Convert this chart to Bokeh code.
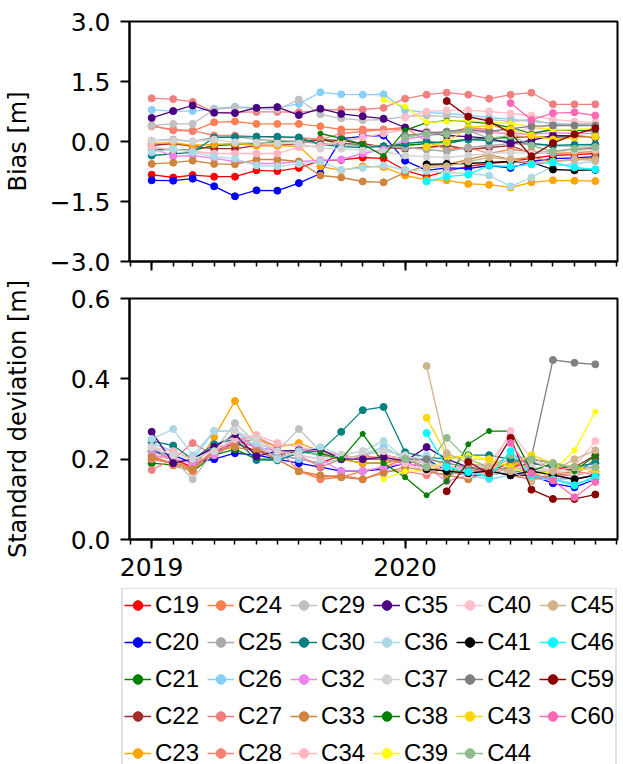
import pandas as pd
from bokeh.plotting import figure
from bokeh.layouts import column
from bokeh.models import (Range1d, FixedTicker, DatetimeTickFormatter, Legend,
                          LegendItem, ColumnDataSource)
from bokeh.embed import file_html
from bokeh.resources import INLINE

# Monthly epochs
months = ["2019-01", "2019-02", "2019-03", "2019-04", "2019-05", "2019-06",
          "2019-07", "2019-08", "2019-09", "2019-10", "2019-11", "2019-12",
          "2020-01", "2020-02", "2020-03", "2020-04", "2020-05", "2020-06",
          "2020-07", "2020-08", "2020-09", "2020-10"]
N = None

# Satellite names, colours (legend order)
satellites = ["C19", "C20", "C21", "C22", "C23", "C24", "C25", "C26", "C27", "C28",
              "C29", "C30", "C32", "C33", "C34", "C35", "C36", "C37", "C38", "C39",
              "C40", "C41", "C42", "C43", "C44", "C45", "C46", "C59", "C60"]
colors = ["red", "blue", "green", "brown", "orange", "coral", "darkgray", "lightskyblue",
          "lightcoral", "salmon", "silver", "teal", "violet", "peru", "lightpink",
          "indigo", "lightblue", "lightgray", "green", "yellow", "pink", "black",
          "gray", "gold", "darkseagreen", "tan", "cyan", "darkred", "hotpink"]
small_marker = ["C38", "C39"]

# Bias [m]
C19_bias = [-0.83, -0.90, -0.84, -0.88, -0.88, -0.72, -0.74, -0.66, -0.48, -0.46, -0.40, -0.42, -0.72, -0.88, -0.74, -0.62, -0.55, -0.50, -0.42, -0.35, -0.33, -0.30]
C20_bias = [-0.97, -0.98, -0.93, -1.12, -1.37, -1.22, -1.23, -1.04, -0.80, 0.07, 0.13, 0.15, -0.48, -0.72, -0.66, -0.68, -0.60, -0.66, -0.50, -0.43, -0.41, -0.38]
C21_bias = [-0.20, -0.20, -0.22, -0.10, -0.08, -0.05, 0.00, 0.00, 0.05, -0.05, -0.08, -0.12, -0.10, -0.05, 0.00, 0.05, 0.08, 0.10, 0.12, 0.10, 0.12, 0.10]
C22_bias = [-0.10, -0.05, -0.12, -0.18, -0.18, -0.10, -0.10, -0.05, 0.05, 0.02, -0.05, -0.15, -0.18, -0.15, -0.10, -0.20, -0.15, -0.10, -0.30, -0.25, -0.20, -0.18]
C23_bias = [-0.05, -0.03, -0.10, -0.07, -0.05, -0.10, -0.10, -0.12, -0.62, -0.72, -0.62, -0.64, -0.85, -0.96, -0.97, -1.06, -1.08, -1.15, -1.02, -0.97, -0.98, -0.99]
C24_bias = [0.40, 0.28, 0.26, 0.48, 0.50, 0.44, 0.44, 0.44, 0.38, 0.30, 0.30, 0.30, 0.35, 0.00, -0.20, -0.15, -0.30, -0.20, -0.25, -0.30, -0.28, -0.25]
C25_bias = [0.02, 0.05, 0.00, 0.10, 0.12, 0.05, 0.02, 0.00, -0.05, -0.08, -0.10, -0.12, -0.15, -0.20, -0.25, -0.15, -0.10, -0.05, -0.08, -0.10, -0.12, -0.10]
C26_bias = [0.79, 0.76, 0.76, 0.82, 0.87, 0.84, 0.84, 0.94, 1.23, 1.18, 1.17, 1.18, 0.79, 0.72, 0.70, 0.66, 0.60, 0.56, 0.50, 0.46, 0.43, 0.40]
C27_bias = [1.08, 1.06, 0.99, 0.72, 0.73, 0.74, 0.74, 0.73, 0.78, 0.80, 0.80, 0.84, 1.07, 1.17, 1.22, 1.17, 1.07, 1.17, 1.22, 0.93, 0.93, 0.93]
C28_bias = [0.38, 0.30, 0.27, 0.15, 0.15, 0.12, 0.10, 0.10, 0.05, 0.20, 0.25, 0.30, 0.30, 0.25, 0.20, 0.35, 0.30, 0.15, 0.10, 0.08, 0.10, 0.12]
C29_bias = [0.40, 0.44, 0.44, 0.80, 0.85, 0.82, 0.80, 1.05, 0.68, 0.58, 0.53, 0.55, 0.62, 0.65, 0.63, 0.60, 0.55, 0.50, 0.55, 0.42, 0.44, 0.45]
C30_bias = [-0.35, -0.31, -0.27, 0.10, 0.11, 0.12, 0.12, 0.10, -0.07, -0.13, -0.15, -0.12, -0.05, 0.00, -0.05, 0.05, 0.02, 0.00, -0.05, -0.10, -0.08, -0.07]
C32_bias = [-0.15, -0.37, -0.35, -0.42, -0.50, -0.55, -0.55, -0.50, -0.47, -0.45, -0.30, -0.20, 0.05, 0.15, 0.20, 0.25, 0.22, 0.20, 0.18, 0.22, 0.20, 0.20]
C33_bias = [-0.56, -0.53, -0.48, -0.56, -0.57, -0.45, -0.45, -0.50, -0.85, -0.90, -1.00, -1.02, -0.78, -0.60, -0.58, -0.45, -0.33, -0.45, -0.40, -0.50, -0.45, -0.42]
C34_bias = [-0.15, -0.20, -0.25, -0.30, -0.30, -0.30, -0.30, -0.14, -0.10, 0.00, 0.10, 0.20, 0.30, 0.25, 0.20, 0.30, 0.25, 0.20, 0.35, 0.30, 0.28, 0.30]
C35_bias = [0.59, 0.76, 0.90, 0.72, 0.71, 0.84, 0.86, 0.66, 0.82, 0.69, 0.63, 0.57, 0.35, 0.22, 0.15, 0.12, 0.08, -0.05, 0.03, 0.15, 0.14, 0.11]
C36_bias = [-0.27, -0.18, -0.27, -0.38, -0.43, -0.60, -0.62, -0.56, -0.50, -0.71, -0.66, -0.60, -0.71, -0.74, -0.78, -0.80, -0.85, -1.12, -0.90, -0.62, -0.55, -0.50]
C37_bias = [0.02, 0.03, 0.00, 0.05, -0.02, -0.03, -0.05, -0.05, -0.18, -0.18, -0.22, -0.25, -0.35, -0.38, -0.40, -0.35, -0.30, -0.28, -0.30, -0.25, -0.22, -0.20]
C38_bias = [N, N, N, N, N, N, N, N, 0.20, 0.08, -0.07, -0.36, 0.28, 0.47, 0.52, 0.50, 0.45, 0.35, 0.20, 0.30, 0.28, 0.26]
C39_bias = [N, N, N, N, N, N, N, N, N, N, N, 1.04, 0.87, 0.48, 0.50, 0.52, 0.48, 0.45, 0.38, 0.30, 0.30, 0.32]
C40_bias = [N, N, N, N, N, N, N, N, N, N, N, N, 0.60, 0.75, 0.78, 0.78, 0.75, 0.70, 0.65, 0.55, 0.50, 0.48]
C41_bias = [N, N, N, N, N, N, N, N, N, N, N, N, N, -0.57, -0.56, -0.55, -0.52, -0.50, -0.52, -0.70, -0.72, -0.71]
C42_bias = [N, N, N, N, N, N, N, N, N, N, N, N, 0.15, 0.20, 0.25, 0.30, 0.25, 0.32, 0.38, 0.40, 0.40, 0.40]
C43_bias = [N, N, N, N, N, N, N, N, N, N, N, N, N, -0.13, -0.02, 0.35, 0.40, 0.30, 0.15, 0.05, 0.10, 0.12]
C44_bias = [N, N, N, N, N, N, N, N, N, N, N, N, 0.10, 0.20, 0.18, 0.27, 0.08, 0.15, -0.10, -0.25, -0.18, -0.14]
C45_bias = [N, N, N, N, N, N, N, N, N, N, N, N, N, -0.65, -0.62, -0.50, -0.40, -0.45, -0.55, -0.50, -0.45, -0.47]
C46_bias = [N, N, N, N, N, N, N, N, N, N, N, N, N, -1.00, -0.88, -0.83, -0.60, -0.62, -0.57, -0.52, -0.65, -0.70]
C59_bias = [N, N, N, N, N, N, N, N, N, N, N, N, N, N, 1.01, 0.62, 0.51, 0.21, -0.37, -0.04, 0.18, 0.33]
C60_bias = [N, N, N, N, N, N, N, N, N, N, N, N, N, N, N, N, N, 0.96, 0.54, 0.71, 0.73, 0.65]

# Standard deviation [m]
C19_std = [0.22, 0.20, 0.18, 0.21, 0.24, 0.22, 0.21, 0.20, 0.19, 0.21, 0.20, 0.21, 0.20, 0.19, 0.18, 0.17, 0.17, 0.18, 0.19, 0.18, 0.17, 0.18]
C20_std = [0.22, 0.21, 0.19, 0.20, 0.215, 0.21, 0.20, 0.19, 0.18, 0.17, 0.17, 0.175, 0.19, 0.20, 0.17, 0.16, 0.16, 0.17, 0.16, 0.14, 0.13, 0.15]
C21_std = [0.19, 0.185, 0.17, 0.21, 0.225, 0.20, 0.20, 0.22, 0.21, 0.20, 0.19, 0.19, 0.20, 0.18, 0.17, 0.17, 0.16, 0.17, 0.17, 0.16, 0.16, 0.20]
C22_std = [0.20, 0.19, 0.18, 0.22, 0.24, 0.22, 0.21, 0.22, 0.22, 0.21, 0.20, 0.20, 0.19, 0.18, 0.17, 0.16, 0.17, 0.19, 0.20, 0.19, 0.18, 0.21]
C23_std = [0.21, 0.20, 0.17, 0.255, 0.345, 0.25, 0.23, 0.24, 0.22, 0.20, 0.19, 0.19, 0.20, 0.18, 0.17, 0.17, 0.18, 0.19, 0.18, 0.17, 0.16, 0.17]
C24_std = [0.21, 0.185, 0.17, 0.225, 0.245, 0.23, 0.20, 0.17, 0.15, 0.155, 0.17, 0.18, 0.20, 0.19, 0.17, 0.16, 0.18, 0.17, 0.16, 0.17, 0.18, 0.19]
C25_std = [0.22, 0.20, 0.19, 0.23, 0.26, 0.23, 0.22, 0.22, 0.21, 0.20, 0.21, 0.20, 0.20, 0.19, 0.18, 0.18, 0.17, 0.18, 0.17, 0.17, 0.16, 0.17]
C26_std = [0.24, 0.22, 0.20, 0.27, 0.27, 0.23, 0.21, 0.20, 0.19, 0.20, 0.21, 0.23, 0.20, 0.19, 0.17, 0.16, 0.15, 0.16, 0.15, 0.15, 0.14, 0.15]
C27_std = [0.173, 0.20, 0.24, 0.21, 0.24, 0.25, 0.22, 0.21, 0.18, 0.20, 0.21, 0.20, 0.19, 0.17, 0.16, 0.17, 0.18, 0.20, 0.17, 0.16, 0.16, 0.17]
C28_std = [0.20, 0.19, 0.18, 0.22, 0.25, 0.255, 0.23, 0.17, 0.155, 0.16, 0.15, 0.17, 0.17, 0.16, 0.18, 0.17, 0.16, 0.18, 0.17, 0.16, 0.17, 0.16]
C29_std = [0.23, 0.20, 0.15, 0.22, 0.29, 0.24, 0.22, 0.275, 0.22, 0.20, 0.21, 0.22, 0.21, 0.19, 0.17, 0.18, 0.18, 0.17, 0.19, 0.19, 0.18, 0.19]
C30_std = [0.245, 0.234, 0.20, 0.237, 0.25, 0.198, 0.197, 0.215, 0.22, 0.268, 0.322, 0.33, 0.217, 0.205, 0.20, 0.21, 0.21, 0.20, 0.19, 0.18, 0.18, 0.19]
C32_std = [0.21, 0.20, 0.19, 0.21, 0.25, 0.23, 0.22, 0.21, 0.20, 0.17, 0.17, 0.18, 0.19, 0.18, 0.145, 0.16, 0.17, 0.16, 0.15, 0.16, 0.15, 0.16]
C33_std = [0.205, 0.19, 0.175, 0.22, 0.23, 0.22, 0.20, 0.17, 0.16, 0.155, 0.15, 0.165, 0.18, 0.17, 0.16, 0.15, 0.17, 0.16, 0.15, 0.16, 0.17, 0.18]
C34_std = [0.23, 0.22, 0.20, 0.22, 0.25, 0.26, 0.24, 0.23, 0.22, 0.21, 0.20, 0.21, 0.20, 0.19, 0.17, 0.18, 0.19, 0.26, 0.18, 0.17, 0.16, 0.17]
C35_std = [0.268, 0.19, 0.20, 0.23, 0.262, 0.207, 0.22, 0.222, 0.225, 0.20, 0.20, 0.205, 0.195, 0.23, 0.20, 0.18, 0.17, 0.16, 0.16, 0.15, 0.15, 0.16]
C36_std = [0.25, 0.275, 0.21, 0.27, 0.27, 0.24, 0.20, 0.22, 0.23, 0.21, 0.22, 0.245, 0.20, 0.21, 0.18, 0.17, 0.16, 0.17, 0.16, 0.15, 0.15, 0.16]
C37_std = [0.23, 0.21, 0.20, 0.22, 0.27, 0.25, 0.22, 0.21, 0.20, 0.21, 0.22, 0.22, 0.21, 0.19, 0.18, 0.17, 0.16, 0.17, 0.18, 0.17, 0.17, 0.18]
C38_std = [N, N, N, N, N, N, N, N, 0.215, 0.20, 0.263, 0.19, 0.155, 0.11, 0.145, 0.237, 0.27, 0.27, 0.17, 0.19, 0.17, 0.21]
C39_std = [N, N, N, N, N, N, N, N, N, N, N, 0.15, 0.17, 0.17, 0.20, 0.21, 0.20, 0.18, 0.16, 0.17, 0.222, 0.318]
C40_std = [N, N, N, N, N, N, N, N, N, N, N, N, 0.19, 0.17, 0.19, 0.16, 0.17, 0.27, 0.20, 0.17, 0.18, 0.245]
C41_std = [N, N, N, N, N, N, N, N, N, N, N, N, N, 0.175, 0.17, 0.165, 0.17, 0.16, 0.17, 0.16, 0.15, 0.16]
C42_std = [N, N, N, N, N, N, N, N, N, N, N, N, 0.20, 0.20, 0.19, 0.18, 0.17, 0.18, 0.205, 0.447, 0.44, 0.436]
C43_std = [N, N, N, N, N, N, N, N, N, N, N, N, N, 0.303, 0.21, 0.20, 0.20, 0.18, 0.21, 0.19, 0.18, 0.17]
C44_std = [N, N, N, N, N, N, N, N, N, N, N, N, 0.20, 0.18, 0.253, 0.20, 0.18, 0.21, 0.20, 0.19, 0.18, 0.18]
C45_std = [N, N, N, N, N, N, N, N, N, N, N, N, N, 0.432, 0.215, 0.19, 0.18, 0.17, 0.145, 0.17, 0.20, 0.222]
C46_std = [N, N, N, N, N, N, N, N, N, N, N, N, N, 0.265, 0.18, 0.168, 0.155, 0.22, 0.16, 0.15, 0.135, 0.157]
C59_std = [N, N, N, N, N, N, N, N, N, N, N, N, N, N, 0.12, 0.193, 0.165, 0.253, 0.124, 0.101, 0.101, 0.112]
C60_std = [N, N, N, N, N, N, N, N, N, N, N, N, N, N, N, N, N, 0.24, 0.165, 0.147, 0.105, 0.143]

bias_tick_values = [-3.0, -1.5, 0.0, 1.5, 3.0]
bias_tick_labels = ["\u22123.0", "\u22121.5", "0.0", "1.5", "3.0"]
std_tick_values = [0.0, 0.2, 0.4, 0.6]
std_tick_labels = ["0.0", "0.2", "0.4", "0.6"]
year_ticks = ["2019-01-01", "2020-01-01"]

g = globals()
dates = pd.to_datetime(months)
span = dates[-1] - dates[0]
x_start = (dates[0] - 0.05 * span).to_pydatetime()
x_end = (dates[-1] + 0.05 * span).to_pydatetime()


def ms(ts):
    return pd.Timestamp(ts).value / 1e6


major = [ms(t) for t in year_ticks]
minor = [ms(t) for t in pd.date_range("2018-12-01", "2020-11-01", freq="MS")]

FONT = "DejaVu Sans"
FS = "25px"


def panel(height, top, bottom, yrange, tvals, tlabs, ylabel, label_standoff, show_x):
    p = figure(width=623, height=height, x_axis_type="datetime",
               x_range=Range1d(x_start, x_end), y_range=Range1d(*yrange),
               output_backend="svg", toolbar_location=None,
               min_border_left=128, min_border_right=6,
               min_border_top=top, min_border_bottom=bottom)
    p.grid.visible = False
    p.outline_line_color = "black"
    p.outline_line_width = 2
    p.outline_line_alpha = 1
    p.background_fill_color = "white"
    p.border_fill_color = "white"

    xa = p.xaxis[0]
    xa.ticker = FixedTicker(ticks=major, minor_ticks=minor)
    xa.formatter = DatetimeTickFormatter(
        microseconds="%Y", milliseconds="%Y", seconds="%Y", minsec="%Y",
        minutes="%Y", hourmin="%Y", hours="%Y", days="%Y", months="%Y", years="%Y")
    ya = p.yaxis[0]
    ya.ticker = FixedTicker(ticks=tvals, minor_ticks=[])
    ya.major_label_overrides = dict(zip(tvals, tlabs))
    ya.axis_label = ylabel
    ya.axis_label_standoff = label_standoff
    ya.axis_label_text_font = FONT
    ya.axis_label_text_font_size = "24px"
    ya.axis_label_text_font_style = "normal"
    ya.axis_label_text_color = "black"
    for ax in (xa, ya):
        ax.axis_line_color = "black"
        ax.axis_line_width = 2
        ax.major_tick_line_color = "black"
        ax.major_tick_line_width = 2
        ax.minor_tick_line_color = "black"
        ax.minor_tick_line_width = 1.5
        ax.major_tick_in = 0
        ax.major_tick_out = 9
        ax.minor_tick_in = 0
        ax.minor_tick_out = 5
        ax.major_label_text_font = FONT
        ax.major_label_text_font_size = FS
        ax.major_label_text_color = "black"
    ya.major_label_standoff = 10
    if show_x:
        xa.major_label_standoff = 9
    else:
        # the upper panel shares the time axis: ticks only, no year labels
        xa.major_label_text_font_size = "1px"
        xa.major_label_text_color = None
        xa.major_label_standoff = 0
    return p


p1 = panel(278, 21, 17, (-3, 3), bias_tick_values, bias_tick_labels, "Bias [m]", 15, False)
p2 = panel(310, 20, 49, (0, 0.6), std_tick_values, std_tick_labels,
           "Standard deviation [m]", 36, True)

for name, color in zip(satellites, colors):
    msize = 5 if name in small_marker else 7
    for p, suffix in ((p1, "_bias"), (p2, "_std")):
        vals = g[name + suffix]
        xs = [d for d, v in zip(dates, vals) if v is not None]
        ys = [v for v in vals if v is not None]
        src = ColumnDataSource(dict(x=xs, y=ys))
        p.line("x", "y", source=src, line_color=color, line_width=1.3)
        p.scatter("x", "y", source=src, size=msize, fill_color=color, line_color=color)

# Legend strip below the panels; its renderers hold a single NaN point so
# that only the legend swatches are drawn.  Its frame is not aligned with
# the panels above, so the legend box can start left of the plot frames.
pl = figure(width=623, height=176, x_axis_type=None, y_axis_type=None,
            x_range=Range1d(0, 1), y_range=Range1d(0, 1),
            output_backend="svg", toolbar_location=None,
            min_border_left=121, min_border_top=0, min_border_right=0, min_border_bottom=0)
pl.frame_align = False
pl.outline_line_color = None
pl.grid.visible = False
items = []
for name, color in zip(satellites, colors):
    src = ColumnDataSource(dict(x=[float("nan")], y=[float("nan")]))
    r1 = pl.line("x", "y", source=src, line_color=color, line_width=1.5)
    r2 = pl.scatter("x", "y", source=src, size=4 if name in small_marker else 6,
                    fill_color=color, line_color=color)
    items.append(LegendItem(label=name, renderers=[r1, r2]))

# location is measured from the bottom-left corner of the strip's frame
legend = Legend(items=items, location=(0, -6), orientation="vertical", nrows=5,
                label_text_font="Liberation Sans", label_text_font_size="24px",
                label_text_color="black", label_height=29, label_standoff=4,
                glyph_width=27, glyph_height=24, spacing=8, padding=1, margin=0,
                border_line_color="#c4c4c4", border_line_width=2,
                background_fill_color="white", background_fill_alpha=1)
pl.add_layout(legend)

layout = column(p1, p2, pl, spacing=0)
open("out.html", "w").write(file_html(layout, INLINE))
